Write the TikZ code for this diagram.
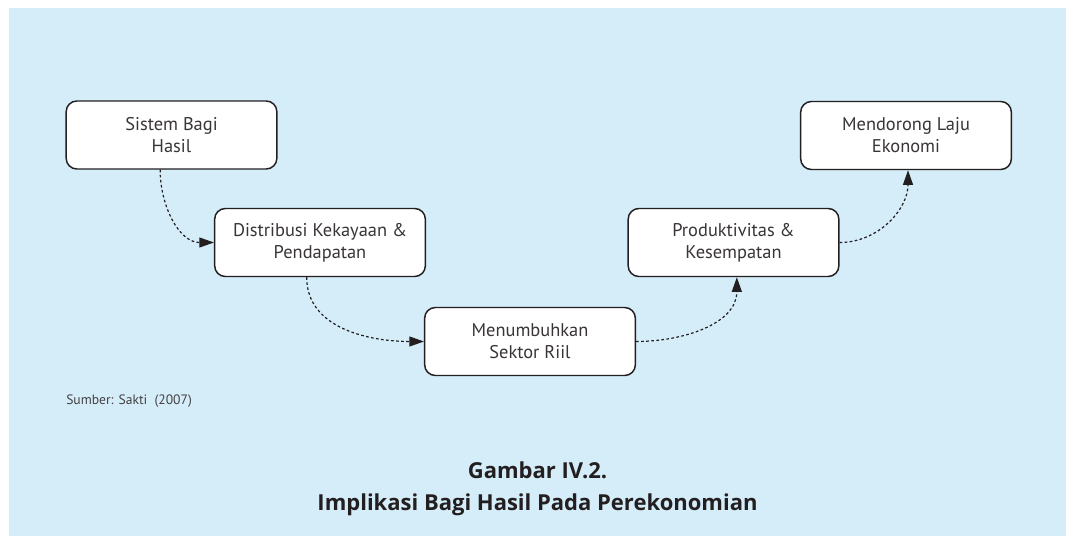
\documentclass[tikz,border=0pt]{standalone}
\usepackage{fontspec}
\setmainfont{Open Sans}
\newfontfamily\boxfont{PT Sans}
\usetikzlibrary{arrows.meta}
\definecolor{panel}{HTML}{D5ECF9}
\definecolor{ink}{HTML}{231F20}
\tikzset{
  stepbox/.style={draw=ink, line width=1.1pt, rounded corners=8pt, fill=white,
    minimum width=158pt, minimum height=51pt, align=center, text=ink!90,
    font=\boxfont\fontsize{13.8}{16.5}\selectfont},
  flow/.style={ink, line width=0.9pt, dash pattern=on 2pt off 1.8pt,
    -{Triangle[length=11pt,width=7.5pt]}}
}

\begin{document}
\begin{tikzpicture}[x=0.75pt, y=0.75pt]
        \useasboundingbox (0,0) rectangle (1066,536);
        \fill[panel] (9,0) rectangle (1066,528);

        \node (bagi) [stepbox] at (171.5,401) {Sistem Bagi\\Hasil};
        \node (distribusi) [stepbox] at (320,293.5) {Distribusi Kekayaan \&\\Pendapatan};
        \node (sektor) [stepbox] at (530,194.5) {Menumbuhkan\\Sektor Riil};
        \node (produktif) [stepbox] at (733.5,293.5) {Produktivitas \&\\Kesempatan};
        \node (laju) [stepbox] at (906,400.5) {Mendorong Laju\\Ekonomi};

        \draw[flow] ([xshift=-8.5pt]bagi.south) to[out=-90, in=180] (distribusi.west);
        \draw[flow] ([xshift=-10pt]distribusi.south) to[out=-90, in=180] (sektor.west);
        \draw[flow] (sektor.east) to[out=0, in=-90] ([xshift=2.5pt]produktif.south);
        \draw[flow] (produktif.east) to[out=0, in=-90] ([xshift=1.5pt]laju.south);

        \node (sumber) [anchor=west, inner sep=0pt, text=ink!85, font=\boxfont\fontsize{10.2}{12}\selectfont] at (66,135) {Sumber: Sakti\ \ (2007)};

        \node (gambar) [align=center, text=ink, font=\fontsize{16.5}{24}\selectfont\bfseries] at (537.5,47) {Gambar IV.2.\\Implikasi Bagi Hasil Pada Perekonomian};
      \end{tikzpicture}
\end{document}
